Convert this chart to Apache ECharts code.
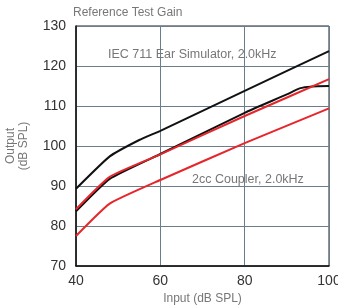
<!DOCTYPE html>
<html>
<head>
<meta charset="utf-8">
<script src="https://cdn.jsdelivr.net/npm/echarts@6/dist/echarts.min.js"></script>
<style>
  html, body { margin: 0; padding: 0; background: #fff; }
  #chart { width: 338px; height: 308px; }
</style>
</head>
<body>
<div id="chart"></div>
<script>
// input level (dB SPL) and output curves
const earSimHighX = [40, 48, 55, 60, 80, 100]
const earSimHighY = [89.3, 97.4, 101.5, 103.8, 113.8, 123.7]

const earSimLowX = [40, 48, 60, 80, 90, 93, 96, 100]
const earSimLowY = [83.7, 91.8, 98.0, 108.3, 112.9, 114.4, 114.9, 115.0]

const couplerHighX = [40, 48, 60, 80, 100]
const couplerHighY = [84.2, 92.3, 97.9, 107.5, 116.7]

const couplerLowX = [40, 48, 60, 80, 100]
const couplerLowY = [77.5, 85.6, 91.5, 100.7, 109.4]

const xTicks = [40, 60, 80, 100]
const yTicks = [70, 80, 90, 100, 110, 120, 130]

function pairs(xs, ys) {
  return xs.map((x, i) => [x, ys[i]])
}

function curve(xs, ys, color) {
  return {
    type: 'line',
    data: pairs(xs, ys),
    showSymbol: false,
    smooth: 0.15,
    lineStyle: { color: color, width: 2 },
    z: color === '#111' ? 3 : 4
  }
}

const chart = echarts.init(document.getElementById('chart'))

const gridColor = '#6a7d8c'
const font = 'Liberation Sans, Arial, sans-serif'

chart.setOption({
  animation: false,
  textStyle: { fontFamily: font },
  grid: {
    left: 76,
    right: 9,
    top: 26,
    bottom: 42,
    outerBoundsMode: 'none',
    containLabel: false,
    show: true,
    borderColor: '#222',
    borderWidth: 1
  },
  xAxis: {
    type: 'value',
    min: xTicks[0],
    max: xTicks[xTicks.length - 1],
    interval: 20,
    name: 'Input (dB SPL)',
    nameLocation: 'middle',
    nameGap: 26,
    nameTextStyle: { color: '#777', fontSize: 12 },
    axisLine: { lineStyle: { color: '#111', width: 1.5 } },
    axisTick: { show: false },
    axisLabel: { color: '#333', fontSize: 14, margin: 8 },
    splitLine: { lineStyle: { color: gridColor, width: 1 } }
  },
  yAxis: {
    type: 'value',
    min: yTicks[0],
    max: yTicks[yTicks.length - 1],
    interval: 10,
    name: 'Output\n(dB SPL)',
    nameLocation: 'middle',
    nameGap: 46,
    nameTextStyle: { color: '#777', fontSize: 12, lineHeight: 13 },
    axisLine: { lineStyle: { color: '#111', width: 1.5 } },
    axisTick: { show: false },
    axisLabel: { color: '#333', fontSize: 14, margin: 10 },
    splitLine: { lineStyle: { color: gridColor, width: 1 } }
  },
  graphic: [
    {
      type: 'text', left: 73, top: 7,
      style: { text: 'Reference Test Gain', fill: '#777', fontSize: 12, fontFamily: font }
    },
    {
      type: 'text', left: 108, top: 48,
      style: { text: 'IEC 711 Ear Simulator, 2.0kHz', fill: '#777', fontSize: 12.5, fontFamily: font }
    },
    {
      type: 'text', left: 192, top: 173,
      style: { text: '2cc Coupler, 2.0kHz', fill: '#777', fontSize: 12.5, fontFamily: font }
    }
  ],
  series: [
    curve(earSimHighX, earSimHighY, '#111'),
    curve(earSimLowX, earSimLowY, '#111'),
    curve(couplerHighX, couplerHighY, '#e5262b'),
    curve(couplerLowX, couplerLowY, '#e5262b')
  ]
})
</script>
</body>
</html>
